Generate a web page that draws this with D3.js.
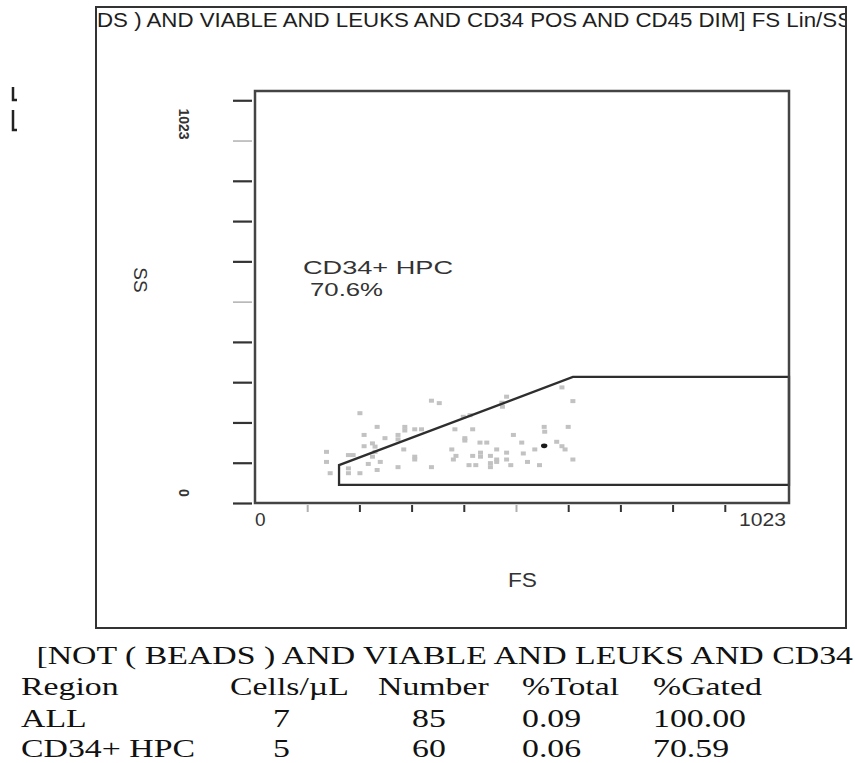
<!DOCTYPE html>
<html>
<head>
<meta charset="utf-8">
<script src="https://cdn.jsdelivr.net/npm/d3@7"></script>
<style>
body{margin:0;background:#fff}
</style>
</head>
<body>
<div id="chart"></div>
<script>
const width = 855, height = 763;

// events (FS, SS channel values)
const fs = [201,338,353,482,473,474,609,588,234,209,
            287,287,306,319,249,274,274,225,230,209,
            230,383,417,402,402,412,399,431,444,495,
            511,554,555,600,578,588,594,536,137,137,
            144,179,188,179,179,201,217,234,240,225,
            274,285,306,306,338,377,380,385,410,423,
            417,432,432,451,451,451,463,463,463,482,
            482,490,522,545,609,514];
const ss = [223,254,248,264,249,239,253,287,189,169,
            189,180,183,183,161,169,158,148,140,141,
            127,183,183,161,155,218,214,150,150,169,
            150,189,177,189,152,141,133,133,127,102,
            74,119,119,86,74,74,97,82,102,115,
            89,133,115,108,89,133,108,117,94,94,
            117,125,115,117,99,89,133,108,102,125,
            108,94,102,94,108,123];
const denseFs = [554];
const denseSs = [142];

// CD34+ HPC gate polygon
const gateFs = [161,161,609,1023,1023];
const gateSs = [45,94,313,313,45];

const yTicks = [0,100,200,300,400,500,600,700,800,900,1000];
const yTicksLight = [500,900];
const xTicks = [100,200,300,400,500,600,700,800,900];
const xTicksLight = [100,500];

const plotTitle = "DS ) AND VIABLE AND LEUKS AND CD34 POS AND CD45 DIM] FS Lin/SS";
const gateName = "CD34+ HPC";
const gatePct = "70.6%";

const tableTitle = "[NOT ( BEADS ) AND VIABLE AND LEUKS AND CD34";
const columns = ["Region","Cells/\u00b5L","Number","%Total","%Gated"];
const regions = ["ALL","CD34+ HPC"];
const cellsPerUl = ["7","5"];
const numbers = ["85","60"];
const pctTotal = ["0.09","0.06"];
const pctGated = ["100.00","70.59"];

const sans = "'Liberation Sans', Arial, sans-serif";
const serif = "'Liberation Serif', 'Times New Roman', serif";

let svg = d3.select("#chart").append("svg")
  .attr("width", width).attr("height", height)
  .attr("viewBox", `0 0 ${width} ${height}`);

function stretch(sel, k){
  sel.each(function(){
    let w = this.getComputedTextLength();
    d3.select(this).attr("textLength", w*k).attr("lengthAdjust","spacingAndGlyphs");
  });
}
function fitTo(sel, len){
  sel.attr("textLength", len).attr("lengthAdjust","spacingAndGlyphs");
}

let x = d3.scaleLinear().domain([0,1023]).range([255,789]);
let y = d3.scaleLinear().domain([0,1023]).range([503,91]);

// outer box
svg.append("rect")
  .attr("x",96).attr("y",7).attr("width",750).attr("height",621)
  .attr("fill","none").attr("stroke","#333").attr("stroke-width",2);

svg.append("clipPath").attr("id","boxclip")
  .append("rect").attr("x",97).attr("y",8).attr("width",748).attr("height",619);

svg.append("text")
  .attr("clip-path","url(#boxclip)")
  .attr("x",97).attr("y",27)
  .attr("font-family",sans).attr("font-size",19.5).attr("fill","#1e1e1e")
  .text(plotTitle)
  .call(fitTo, 755);

// left edge fragments
[[87,100],[110,130]].forEach(f=>{
  svg.append("path")
    .attr("d",`M13,${f[0]}V${f[1]}H17`)
    .attr("fill","none").attr("stroke","#222").attr("stroke-width",2.5);
});

// events
svg.append("g").selectAll("rect")
  .data(fs.map((d,i)=>[d,ss[i]]))
  .enter().append("rect")
  .attr("x",d=>x(d[0])-2.5)
  .attr("y",d=>y(d[1])-2)
  .attr("width",5).attr("height",4)
  .attr("fill","#c2c2c2");

svg.append("g").selectAll("ellipse")
  .data(denseFs.map((d,i)=>[d,denseSs[i]]))
  .enter().append("ellipse")
  .attr("cx",d=>x(d[0])).attr("cy",d=>y(d[1]))
  .attr("rx",3.2).attr("ry",2.4)
  .attr("fill","#1a1a1a");

// gate
let gateLine = d3.line().x(d=>x(d[0])).y(d=>y(d[1]));
svg.append("path")
  .attr("d", gateLine(gateFs.map((d,i)=>[d,gateSs[i]])) + "Z")
  .attr("fill","none").attr("stroke","#2e2e2e").attr("stroke-width",2.3);

// plot frame
svg.append("rect")
  .attr("x",x(0)).attr("y",y(1023))
  .attr("width",x(1023)-x(0)).attr("height",y(0)-y(1023))
  .attr("fill","none").attr("stroke","#444").attr("stroke-width",2.5);

// axes
let yAxis = svg.append("g")
  .attr("transform","translate(252,0)")
  .call(d3.axisLeft(y).tickValues(yTicks).tickSize(19).tickFormat(""));
yAxis.select(".domain").remove();
yAxis.selectAll(".tick line")
  .attr("stroke",d=>yTicksLight.includes(d)?"#b0b0b0":"#333")
  .attr("stroke-width",d=>yTicksLight.includes(d)?1.5:2.2);

let xAxis = svg.append("g")
  .attr("transform","translate(0,505)")
  .call(d3.axisBottom(x).tickValues(xTicks).tickSize(7).tickFormat(""));
xAxis.select(".domain").remove();
xAxis.selectAll(".tick line")
  .attr("stroke",d=>xTicksLight.includes(d)?"#b0b0b0":"#333")
  .attr("stroke-width",2);

// tick labels
svg.append("text")
  .attr("transform",`translate(179,${y(1023)+33}) rotate(90)`)
  .attr("text-anchor","middle")
  .attr("font-family",sans).attr("font-size",14).attr("font-weight","bold").attr("fill","#333")
  .text("1023");
svg.append("text")
  .attr("transform",`translate(179,${y(0)-10}) rotate(90)`)
  .attr("text-anchor","middle")
  .attr("font-family",sans).attr("font-size",14).attr("font-weight","bold").attr("fill","#333")
  .text("0");
svg.append("text")
  .attr("x",x(0)).attr("y",526)
  .attr("font-family",sans).attr("font-size",19).attr("fill","#333")
  .text("0");
svg.append("text")
  .attr("x",x(1023)-3).attr("y",526).attr("text-anchor","end")
  .attr("font-family",sans).attr("font-size",19).attr("fill","#333")
  .text("1023")
  .call(fitTo, 47);

// axis titles
svg.append("text")
  .attr("x",508).attr("y",587)
  .attr("font-family",sans).attr("font-size",20).attr("fill","#333")
  .text("FS")
  .call(fitTo, 29);
svg.append("text")
  .attr("transform","translate(134,280) rotate(90)")
  .attr("text-anchor","middle")
  .attr("font-family",sans).attr("font-size",19).attr("fill","#333")
  .text("SS");

// gate label
svg.append("text")
  .attr("x",303).attr("y",274)
  .attr("font-family",sans).attr("font-size",19).attr("fill","#333")
  .text(gateName)
  .call(fitTo, 150);
svg.append("text")
  .attr("x",310).attr("y",296)
  .attr("font-family",sans).attr("font-size",19).attr("fill","#333")
  .text(gatePct)
  .call(fitTo, 73);

// statistics table
let tbl = svg.append("g")
  .attr("font-family",serif).attr("font-size",26).attr("fill","#111");

tbl.append("text")
  .attr("x",853).attr("y",664).attr("text-anchor","end")
  .text(tableTitle)
  .call(stretch, 1.3);

let headX = [21,230,378,522,653];
tbl.selectAll(".head")
  .data(columns).enter().append("text")
  .attr("class","head")
  .attr("x",(d,i)=>headX[i]).attr("y",695)
  .text(d=>d)
  .call(stretch, 1.3);

let valX = [21,273,412,522,653];
regions.forEach((r,j)=>{
  let row = [r, cellsPerUl[j], numbers[j], pctTotal[j], pctGated[j]];
  tbl.selectAll(".row"+j)
    .data(row).enter().append("text")
    .attr("class","row"+j)
    .attr("x",(d,i)=>valX[i]).attr("y",727+j*30)
    .text(d=>d)
    .call(stretch, 1.3);
});
</script>
</body>
</html>
